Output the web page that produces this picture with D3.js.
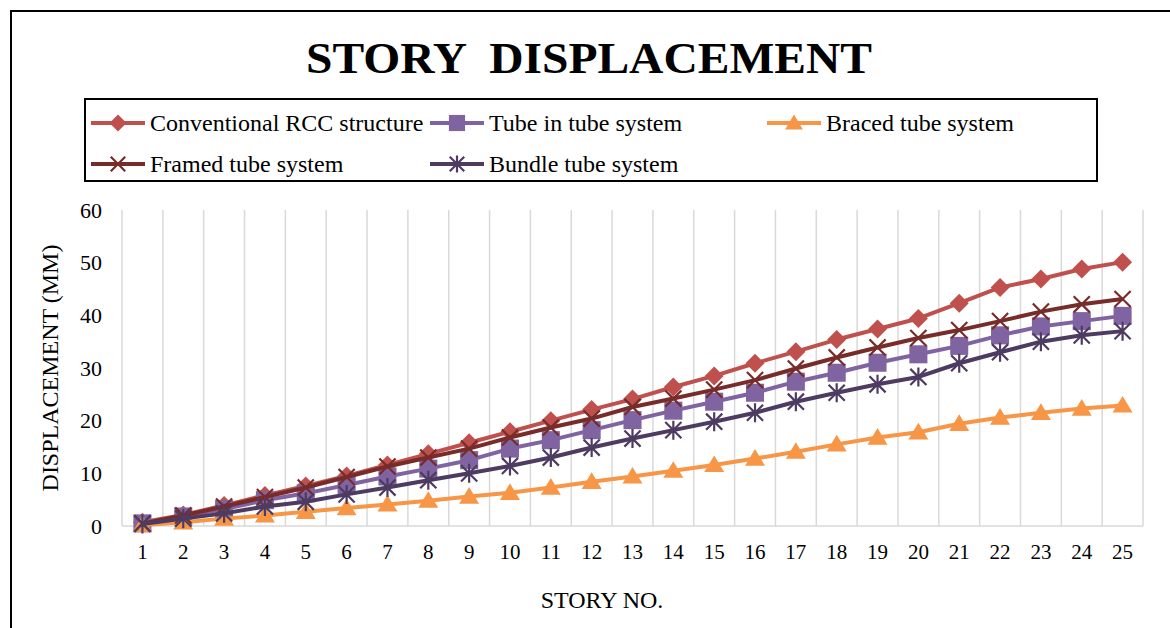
<!DOCTYPE html>
<html>
<head>
<meta charset="utf-8">
<script src="https://cdn.jsdelivr.net/npm/d3@7"></script>
<style>
  body { margin: 0; background: #fff; }
  svg text { font-family: "Liberation Serif", "Times New Roman", serif; fill: #000; }
</style>
</head>
<body>
<svg id="chart" width="1170" height="628"></svg>
<script>
// data
var stories = d3.range(1, 26).map(String);
var seriesNames = ["Conventional RCC structure", "Tube in tube system", "Braced tube system",
                   "Framed tube system", "Bundle tube system"];
var conventional = [0.7, 2.1, 3.9, 5.8, 7.6, 9.5, 11.6, 13.7, 15.8, 17.9, 20.0, 22.1, 24.1, 26.4, 28.5,
                    30.9, 33.1, 35.4, 37.4, 39.4, 42.3, 45.3, 46.9, 48.8, 50.1];
var tubeInTube   = [0.5, 1.8, 3.2, 4.9, 6.2, 7.8, 9.4, 10.9, 12.5, 14.7, 16.3, 18.2, 20.1, 21.9, 23.6,
                    25.3, 27.4, 29.1, 31.0, 32.6, 34.2, 36.2, 37.9, 38.9, 39.9];
var braced       = [0.2, 0.7, 1.4, 2.0, 2.7, 3.4, 4.1, 4.8, 5.6, 6.3, 7.3, 8.4, 9.4, 10.5, 11.6,
                    12.8, 14.1, 15.5, 16.8, 17.8, 19.4, 20.6, 21.5, 22.3, 22.9];
var framed       = [0.5, 2.0, 3.7, 5.5, 7.3, 9.3, 11.3, 13.0, 14.7, 16.8, 18.7, 20.4, 22.6, 24.2, 25.9,
                    27.7, 29.9, 32.0, 33.9, 35.7, 37.2, 38.9, 40.7, 42.1, 43.1];
var bundle       = [0.4, 1.4, 2.4, 3.7, 4.6, 6.0, 7.3, 8.7, 10.0, 11.4, 13.0, 14.9, 16.6, 18.2, 19.8,
                    21.5, 23.6, 25.3, 26.9, 28.3, 30.9, 33.0, 35.0, 36.2, 37.0];
var yTicks = [0, 10, 20, 30, 40, 50, 60];

var colors = ["#C0504D", "#8064A2", "#F79646", "#772C2A", "#4D3B62"];
var markers = ["diamond", "square", "triangle", "x", "asterisk"];
var allSeries = [conventional, tubeInTube, braced, framed, bundle];

var svg = d3.select("#chart");

// outer frame
svg.append("rect").attr("x", 11).attr("y", 11).attr("width", 1200).attr("height", 700)
    .attr("fill", "none").attr("stroke", "#000").attr("stroke-width", 2);

// title
svg.append("text").attr("x", 589).attr("y", 73).attr("text-anchor", "middle")
    .attr("font-size", 44).attr("font-weight", "bold")
    .style("white-space", "pre")
    .attr("textLength", 566).attr("lengthAdjust", "spacingAndGlyphs")
    .text("STORY  DISPLACEMENT");

var plot = {left: 122, right: 1143, top: 210, bottom: 526};

var x = d3.scaleBand().domain(stories).range([plot.left, plot.right]).padding(0);
var y = d3.scaleLinear().domain([0, 60]).range([plot.bottom, plot.top]);

// vertical gridlines at category boundaries
var bounds = stories.map(function (s) { return x(s); }).concat([x.range()[1]]);
svg.append("g").selectAll("line").data(bounds).enter().append("line")
    .attr("x1", function (d) { return d; }).attr("x2", function (d) { return d; })
    .attr("y1", plot.top).attr("y2", plot.bottom)
    .attr("stroke", "#D9D9D9").attr("stroke-width", 1.5);

svg.append("line").attr("x1", plot.left).attr("x2", plot.right)
    .attr("y1", plot.bottom).attr("y2", plot.bottom)
    .attr("stroke", "#D9D9D9").attr("stroke-width", 1.5);

// axes labels
var cx = function (s) { return x(s) + x.bandwidth() / 2; };

var xAxis = d3.axisBottom(x).tickSize(0).tickPadding(18);
var gx = svg.append("g").attr("transform", "translate(0," + plot.bottom + ")").call(xAxis);
gx.select(".domain").remove();
gx.selectAll("text").attr("font-size", 21).attr("font-family", "Liberation Serif").attr("fill", "#000");

var yAxis = d3.axisLeft(y).tickValues(yTicks).tickSize(0).tickPadding(20);
var gy = svg.append("g").attr("transform", "translate(" + plot.left + ",0)").call(yAxis);
gy.select(".domain").remove();
gy.selectAll("text").attr("font-size", 22).attr("font-family", "Liberation Serif").attr("fill", "#000");

svg.append("text").attr("x", 602).attr("y", 608).attr("text-anchor", "middle")
    .attr("font-size", 24).text("STORY NO.");

svg.append("text").attr("transform", "translate(58,368) rotate(-90)").attr("text-anchor", "middle")
    .attr("font-size", 24).text("DISPLACEMENT (MM)");

// marker paths
function markerPath(type, r) {
    if (type === "diamond") return "M0," + (-r) + "L" + r + ",0L0," + r + "L" + (-r) + ",0Z";
    if (type === "square") { var s = r * 0.95; return "M" + (-s) + "," + (-s) + "H" + s + "V" + s + "H" + (-s) + "Z"; }
    if (type === "triangle") return "M0," + (-r) + "L" + (r * 1.05) + "," + (r * 0.75) + "L" + (-r * 1.05) + "," + (r * 0.75) + "Z";
    var d = r * 0.85;
    var p = "M" + (-d) + "," + (-d) + "L" + d + "," + d + "M" + (-d) + "," + d + "L" + d + "," + (-d);
    if (type === "asterisk") p += "M0," + (-r) + "L0," + r;
    return p;
}
function styleMarker(sel, i) {
    var stroked = markers[i] === "x" || markers[i] === "asterisk";
    sel.attr("fill", stroked ? "none" : colors[i])
        .attr("stroke", colors[i])
        .attr("stroke-width", stroked ? 2.2 : 0);
}

var line = d3.line().x(function (d, j) { return cx(stories[j]); }).y(function (d) { return y(d); });

allSeries.forEach(function (vals, i) {
    var g = svg.append("g");
    g.append("path").datum(vals).attr("d", line).attr("fill", "none")
        .attr("stroke", colors[i]).attr("stroke-width", 4).attr("stroke-linejoin", "round");
    g.selectAll("path.m").data(vals).enter().append("path").attr("class", "m")
        .attr("d", markerPath(markers[i], 9.5))
        .attr("transform", function (d, j) { return "translate(" + cx(stories[j]) + "," + y(d) + ")"; })
        .call(styleMarker, i);
});

// legend
svg.append("rect").attr("x", 85).attr("y", 99).attr("width", 1012).attr("height", 82)
    .attr("fill", "#fff").attr("stroke", "#000").attr("stroke-width", 2);

var legendPos = [[91, 123], [430, 123], [767, 123], [91, 164], [430, 164]];
seriesNames.forEach(function (name, i) {
    var g = svg.append("g").attr("transform", "translate(" + legendPos[i][0] + "," + legendPos[i][1] + ")");
    g.append("line").attr("x1", 0).attr("x2", 54).attr("y1", 0).attr("y2", 0)
        .attr("stroke", colors[i]).attr("stroke-width", 4);
    g.append("path").attr("d", markerPath(markers[i], 8.5)).attr("transform", "translate(27,0)")
        .call(styleMarker, i);
    g.append("text").attr("x", 59).attr("y", 8).attr("font-size", 24).text(name);
});
</script>
</body>
</html>
